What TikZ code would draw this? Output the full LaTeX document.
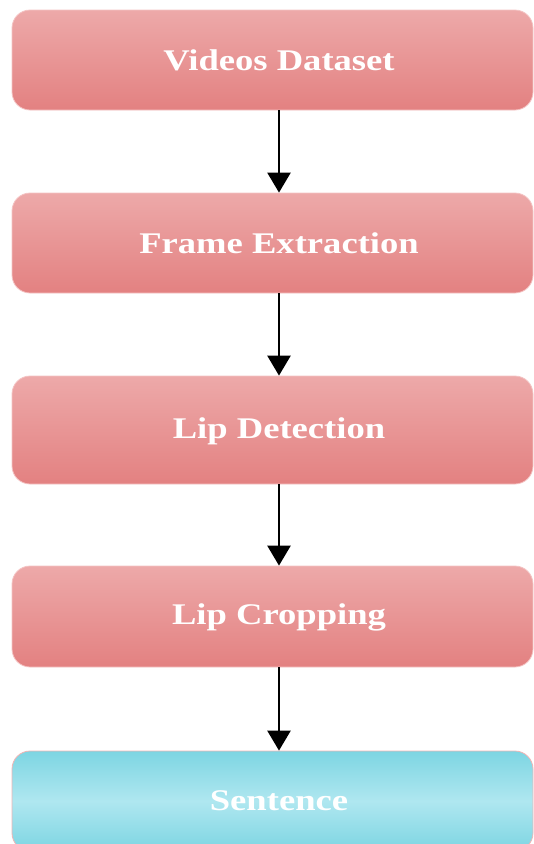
\documentclass[tikz,border=0pt]{standalone}
\usepackage{fontspec}
\setmainfont{Liberation Serif}
\usetikzlibrary{arrows.meta}
\definecolor{pinktop}{HTML}{EDA9A9}
\definecolor{pinkbot}{HTML}{E38181}
\definecolor{pinkedge}{HTML}{F4C4C4}
\definecolor{bluetop}{HTML}{7DD5E2}
\definecolor{bluemid}{HTML}{AFE7F0}
\definecolor{blueedge}{HTML}{F2B4B4}
\begin{document}
\begin{tikzpicture}[x=1pt,y=-1pt,
  stagebox/.style={rounded corners=18pt, minimum width=521pt, inner sep=0pt,
    anchor=center, top color=pinktop, bottom color=pinkbot,
    draw=pinkedge, line width=0.8pt},
  outbox/.style={stagebox, top color=bluetop, bottom color=bluetop, middle color=bluemid, draw=blueedge},
  stagetext/.style={text=white, inner sep=0pt, font=\bfseries\fontsize{30}{36}\selectfont},
  flow/.style={line width=2.6pt, -{Triangle[width=23pt,length=20pt]}}]
\useasboundingbox (0,0) rectangle (534,844);
\node[stagebox, minimum height=100pt] (b1) at (272.5,60) {};
\node[stagebox, minimum height=100pt] (b2) at (272.5,243) {};
\node[stagebox, minimum height=108pt] (b3) at (272.5,430) {};
\node[stagebox, minimum height=101pt] (b4) at (272.5,616.5) {};
\node[outbox, minimum height=100pt] (b5) at (272.5,801) {};
\node[stagetext] (t1) at (279,60) {\scalebox{1.22}[1]{Videos Dataset}};
\node[stagetext] (t2) at (279,243) {\scalebox{1.22}[1]{Frame Extraction}};
\node[stagetext] (t3) at (279,431) {\scalebox{1.22}[1]{Lip Detection}};
\node[stagetext] (t4) at (279,617) {\scalebox{1.22}[1]{Lip Cropping}};
\node[stagetext] (t5) at (279,801) {\scalebox{1.22}[1]{Sentence}};
\draw[flow] (b1.south -| t1) -- (b2.north -| t1);
\draw[flow] (b2.south -| t2) -- (b3.north -| t2);
\draw[flow] (b3.south -| t3) -- (b4.north -| t3);
\draw[flow] (b4.south -| t4) -- (b5.north -| t4);
\end{tikzpicture}
\end{document}
